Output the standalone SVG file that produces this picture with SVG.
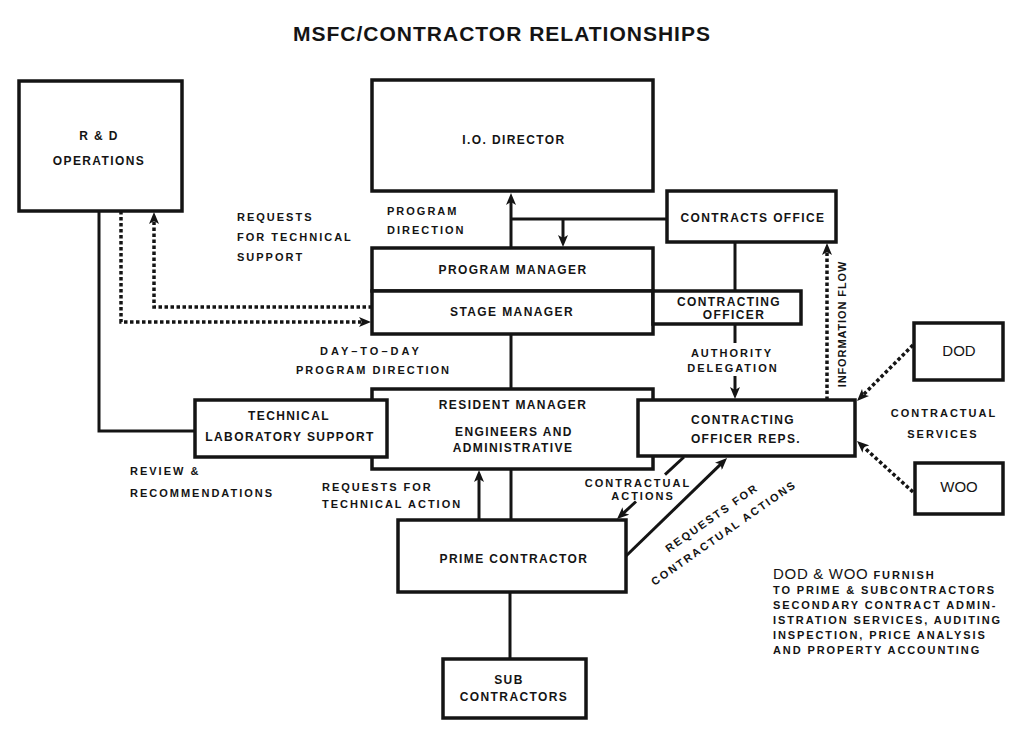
<svg xmlns="http://www.w3.org/2000/svg" width="1019" height="729" viewBox="0 0 1019 729">
<defs>
<style>
.box{fill:#fff;stroke:#141414;stroke-width:3.5}
.ln{fill:none;stroke:#141414;stroke-width:3}
.dot{fill:none;stroke:#141414;stroke-width:3.5;stroke-dasharray:3.5 2.5}
text{font-family:"Liberation Sans",Arial,sans-serif;font-weight:bold;fill:#141414}
.bl{font-size:12px;letter-spacing:1.4px;text-anchor:middle}
.sl{font-size:11px;letter-spacing:2px}
.slm{font-size:11px;letter-spacing:2px;text-anchor:middle}
.big{font-size:15px;font-weight:normal;text-anchor:middle}
.note{font-size:11px;letter-spacing:1.9px}
</style>
<marker id="ah" viewBox="0 0 12 10" refX="4" refY="5" markerWidth="12" markerHeight="10" markerUnits="userSpaceOnUse" orient="auto">
<path d="M0,0 L12,5 L0,10 L3,5 z" fill="#141414"/>
</marker>
</defs>
<rect width="1019" height="729" fill="#fff"/>
<text x="502" y="41" style="font-size:21px;letter-spacing:1px;text-anchor:middle">MSFC/CONTRACTOR RELATIONSHIPS</text>

<g id="connectors">
<path class="ln" d="M99,211 V431 H195"/>
<path class="ln" d="M511,248 V201" marker-end="url(#ah)"/>
<path class="ln" d="M511,219 H667"/>
<path class="ln" d="M563,219 V239" marker-end="url(#ah)"/>
<path class="ln" d="M735,242 V291"/>
<path class="ln" d="M735,324 V343"/>
<path class="ln" d="M735,376 V391" marker-end="url(#ah)"/>
<path class="ln" d="M511,334 V389"/>
<path class="ln" d="M511,469 V520"/>
<path class="ln" d="M479,520 V478" marker-end="url(#ah)"/>
<path class="ln" d="M510,592 V659"/>
<path class="ln" d="M684,457 L665,474.6"/>
<path class="ln" d="M636,501.5 L622.9,513.6" marker-end="url(#ah)"/>
<path class="ln" d="M626,556 L721.3,463.6" marker-end="url(#ah)"/>
<path class="dot" d="M372,307 H154 V220" marker-end="url(#ah)"/>
<path class="dot" d="M121,211 V322 H363" marker-end="url(#ah)"/>
<path class="dot" d="M827,400 V251" marker-end="url(#ah)"/>
<path class="dot" d="M913,345 L862.7,395.3" marker-end="url(#ah)"/>
<path class="dot" d="M913,492 L862.9,446.4" marker-end="url(#ah)"/>
</g>

<g id="rd">
<rect class="box" x="19" y="81" width="163" height="130"/>
<text class="bl" x="99" y="140">R &amp; D</text>
<text class="bl" x="99" y="165">OPERATIONS</text>
</g>
<g id="io-director">
<rect class="box" x="372" y="80" width="281" height="111"/>
<text class="bl" x="514" y="144">I.O. DIRECTOR</text>
</g>
<g id="contracts-office">
<rect class="box" x="667" y="191" width="169" height="51"/>
<text class="bl" x="753" y="221.5">CONTRACTS OFFICE</text>
</g>
<g id="program-manager">
<rect class="box" x="372" y="248" width="281" height="43"/>
<text class="bl" x="513" y="274">PROGRAM MANAGER</text>
</g>
<g id="stage-manager">
<rect class="box" x="372" y="291" width="281" height="43"/>
<text class="bl" x="512" y="316">STAGE MANAGER</text>
</g>
<g id="contracting-officer">
<rect class="box" x="653" y="291" width="148" height="33"/>
<text class="bl" x="729" y="306">CONTRACTING</text>
<text class="bl" x="734" y="319">OFFICER</text>
</g>
<g id="resident-manager">
<rect class="box" x="372" y="389" width="281" height="80"/>
<text class="bl" x="513" y="409">RESIDENT MANAGER</text>
<text class="bl" x="514" y="436">ENGINEERS AND</text>
<text class="bl" x="513" y="452">ADMINISTRATIVE</text>
</g>
<g id="technical-lab">
<rect class="box" x="195" y="400" width="192" height="57"/>
<text class="bl" x="289" y="420">TECHNICAL</text>
<text class="bl" x="290" y="441">LABORATORY SUPPORT</text>
</g>
<g id="co-reps">
<rect class="box" x="638" y="400" width="217" height="56"/>
<text class="bl" x="743" y="424">CONTRACTING</text>
<text class="bl" x="746" y="443">OFFICER REPS.</text>
</g>
<g id="dod">
<rect class="box" x="914" y="323" width="89" height="57"/>
<text class="big" x="959" y="356">DOD</text>
</g>
<g id="woo">
<rect class="box" x="915" y="463" width="88" height="51"/>
<text class="big" x="959" y="492">WOO</text>
</g>
<g id="prime-contractor">
<rect class="box" x="398" y="520" width="228" height="72"/>
<text class="bl" x="514" y="563">PRIME CONTRACTOR</text>
</g>
<g id="sub-contractors">
<rect class="box" x="443" y="659" width="143" height="59"/>
<text class="bl" x="509" y="684">SUB</text>
<text class="bl" x="514" y="701">CONTRACTORS</text>
</g>

<g id="labels">
<text class="sl" x="237" y="221">REQUESTS</text>
<text class="sl" x="237" y="241">FOR TECHNICAL</text>
<text class="sl" x="237" y="261">SUPPORT</text>
<text class="sl" x="387" y="215">PROGRAM</text>
<text class="sl" x="387" y="234">DIRECTION</text>
<text class="sl" x="320" y="355" style="letter-spacing:3px">DAY–TO–DAY</text>
<text class="sl" x="296" y="374">PROGRAM DIRECTION</text>
<text class="slm" x="732" y="357">AUTHORITY</text>
<text class="slm" x="733" y="372">DELEGATION</text>
<text class="sl" transform="translate(846,324) rotate(-90)" style="font-size:11px;letter-spacing:0.9px;text-anchor:middle">INFORMATION FLOW</text>
<text class="slm" x="944" y="417">CONTRACTUAL</text>
<text class="slm" x="943" y="438">SERVICES</text>
<text class="sl" x="130" y="475">REVIEW &amp;</text>
<text class="sl" x="130" y="497">RECOMMENDATIONS</text>
<text class="sl" x="322" y="491">REQUESTS FOR</text>
<text class="sl" x="322" y="508">TECHNICAL ACTION</text>
<text class="slm" x="638" y="487">CONTRACTUAL</text>
<text class="slm" x="643" y="500">ACTIONS</text>
<text class="slm" transform="translate(714,521) rotate(-35)">REQUESTS FOR</text>
<text class="slm" transform="translate(726,536) rotate(-35)">CONTRACTUAL ACTIONS</text>
<text x="773" y="579"><tspan style="font-size:15px;font-weight:normal;letter-spacing:0.7px">DOD &amp; WOO</tspan><tspan style="font-size:11px;letter-spacing:1.9px"> FURNISH</tspan></text>
<text class="note" x="773" y="594">TO PRIME &amp; SUBCONTRACTORS</text>
<text class="note" x="773" y="609">SECONDARY CONTRACT ADMIN-</text>
<text class="note" x="773" y="624">ISTRATION SERVICES, AUDITING</text>
<text class="note" x="773" y="639">INSPECTION, PRICE ANALYSIS</text>
<text class="note" x="773" y="654">AND PROPERTY ACCOUNTING</text>
</g>
</svg>
